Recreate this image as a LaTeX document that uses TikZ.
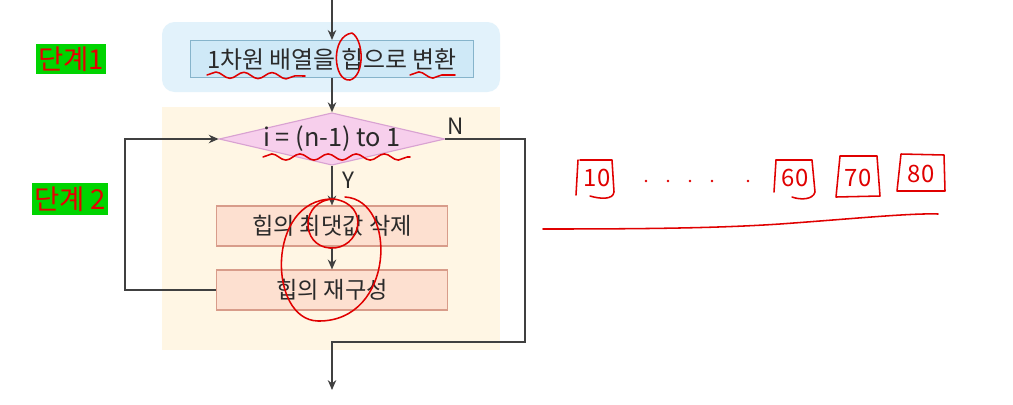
\documentclass[tikz,border=0pt]{standalone}
\usepackage{fontspec}
\setmainfont{Noto Sans CJK KR}
\usetikzlibrary{shapes.geometric, arrows.meta, decorations.pathmorphing}

\definecolor{bluepanel}{HTML}{E2F2FB}
\definecolor{bluefill}{HTML}{CFE9F7}
\definecolor{blueline}{HTML}{86B4CB}
\definecolor{beigepanel}{HTML}{FFF6E4}
\definecolor{pinkfill}{HTML}{F7CFEC}
\definecolor{pinkline}{HTML}{D9A2D2}
\definecolor{salmonfill}{HTML}{FDE0D0}
\definecolor{salmonline}{HTML}{D89C8A}
\definecolor{labelgreen}{HTML}{00D400}
\definecolor{labelred}{HTML}{E60000}
\definecolor{ink}{HTML}{E00000}
\definecolor{flowgray}{HTML}{404040}
\definecolor{textgray}{HTML}{2A2A2A}

\tikzset{
  bluebox/.style={draw=blueline, fill=bluefill, line width=0.8pt, minimum width=7.075cm, minimum height=0.925cm, inner sep=0pt, text=textgray, font=\fontsize{17}{20}\selectfont},
  salmonbox/.style={draw=salmonline, fill=salmonfill, line width=0.8pt, minimum width=5.775cm, minimum height=1cm, inner sep=0pt, text=textgray, font=\fontsize{16.5}{20}\selectfont},
  cond/.style={diamond, draw=pinkline, fill=pinkfill, line width=0.8pt, minimum width=5.575cm, minimum height=1.3cm, shape aspect=4.3, inner sep=-1.5pt, text=textgray, font=\fontsize{18}{21}\selectfont},
  steplabel/.style={fill=labelgreen, text=labelred, inner sep=0pt, font=\fontsize{19.5}{22}\selectfont},
  flow/.style={draw=flowgray, line width=1.3pt, -{Stealth[length=7pt,width=6pt]}},
  flowlabel/.style={text=textgray, inner sep=0pt, font=\fontsize{16}{19}\selectfont},
  pen/.style={draw=ink, line width=1.1pt, line cap=round, line join=round},
  wavy/.style={pen, decorate, decoration={snake, amplitude=2.2pt, segment length=20pt}},
  digits/.style={text=ink, font=\fontsize{17}{20}\selectfont}
}

\begin{document}
\begin{tikzpicture}[x=0.025cm, y=-0.025cm, font=\fontsize{15}{18}\selectfont]
\useasboundingbox[fill=white] (0,0) rectangle (1013,404);

% panels
\fill[bluepanel, rounded corners=9pt] (162,22) rectangle (500,92);
\fill[beigepanel] (162,107) rectangle (500,350);

% step labels
\node[steplabel, minimum width=1.725cm, minimum height=0.75cm] (step1) at (71,59) {단계1};
\node[steplabel, minimum width=1.875cm, minimum height=0.8cm] (step2) at (70,199) {단계 2};

% flow chart
\node[bluebox] (conv) at (332,59) {1차원 배열을 힙으로 변환};
\node[cond] (check) at (332,139) {i = (n-1) to 1};
\node[salmonbox] (del) at (332,226) {힙의 최댓값 삭제};
\node[salmonbox] (rebuild) at (332,290) {힙의 재구성};

\coordinate (start) at (332,0);
\coordinate (loopx) at (125,0);
\coordinate (exitx) at (525,0);
\coordinate (exitb) at (332,342);
\coordinate (finish) at (332,390);

\draw[flow] (start) -- (conv.north);
\draw[flow] (conv.south) -- (check.north);
\draw[flow] (check.south) -- (del.north);
\draw[flow] (del.south) -- (rebuild.north);
\draw[flow] (rebuild.west) -- (rebuild.west -| loopx) |- (check.west);
\draw[flow] (check.east) -- (check.east -| exitx) |- (exitb) -- (finish);

\node[flowlabel] (nlab) at (456,126) {N};
\node[flowlabel] (ylab) at (348,180) {Y};

% pen marks
\draw[pen] (352,33) .. controls (330,36) and (333,82) .. (350,80)
  .. controls (365,76) and (364,40) .. (352,33);
\draw[wavy] (207,75) -- (305,76);
\draw[wavy] (410,75) -- (455,75);
\draw[wavy] (263,157) -- (410,157);
\draw[pen] (334,199) .. controls (300,200) and (300,246) .. (330,248)
  .. controls (360,250) and (372,205) .. (334,199);
\draw[pen] (345,197) .. controls (398,200) and (395,322) .. (318,321)
  .. controls (268,320) and (266,200) .. (332,199);

% array sketch
\draw[pen] (578,160) -- (576,195);
\draw[pen] (580,160) -- (612,160) -- (614,192) .. controls (613,200) and (600,199) .. (590,196);
\node[digits] (v10) at (597,178) {10};
\foreach \xd in {646,668,690,712,748} \fill[ink] (\xd,181) circle (1.3);
\draw[pen] (776,160) -- (774,192);
\draw[pen] (776,160) -- (812,160) -- (815,192) .. controls (813,200) and (800,200) .. (792,197);
\node[digits] (v60) at (795,178) {60};
\draw[pen] (840,156) -- (836,197) -- (880,196) -- (877,156) -- (840,156);
\node[digits] (v70) at (858,178) {70};
\draw[pen] (901,154) -- (897,191) -- (945,191) -- (944,155) -- (901,154);
\node[digits] (v80) at (921,174) {80};
\draw[pen] (543,229) .. controls (650,229) and (720,228) .. (780,224)
  .. controls (850,219) and (910,213) .. (938,214);
\end{tikzpicture}
\end{document}
